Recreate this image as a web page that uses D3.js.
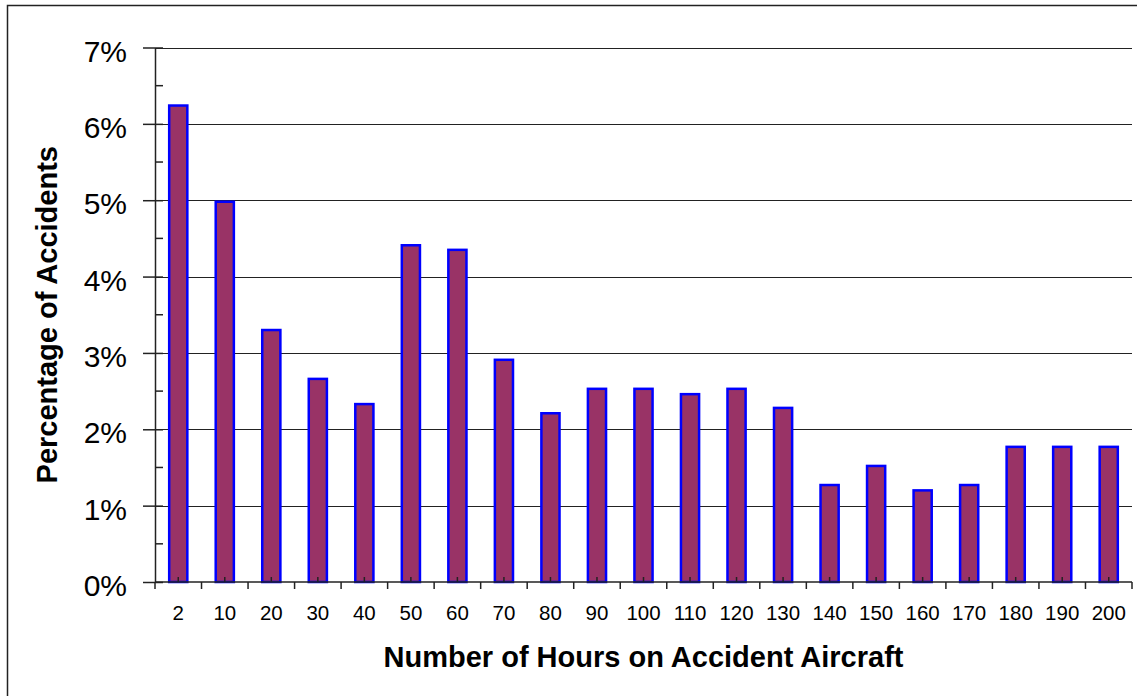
<!DOCTYPE html>
<html>
<head>
<meta charset="utf-8">
<script src="https://cdn.jsdelivr.net/npm/d3@7"></script>
<style>
html,body{margin:0;padding:0;background:#fff;}
svg{display:block;}
text{font-family:"Liberation Sans",Arial,sans-serif;fill:#000;}
</style>
</head>
<body>
<svg id="chart" width="1137" height="696"></svg>
<script>
const categories = ["2","10","20","30","40","50","60","70","80","90","100","110","120","130","140","150","160","170","180","190","200"];
const values = [6.24,4.98,3.30,2.66,2.33,4.41,4.35,2.91,2.21,2.53,2.53,2.46,2.53,2.28,1.27,1.52,1.20,1.27,1.77,1.77,1.77];
const yTicks = [0,1,2,3,4,5,6,7];
const yMinorTicks = [0.5,1.5,2.5,3.5,4.5,5.5,6.5];
const xTitle = "Number of Hours on Accident Aircraft";
const yTitle = "Percentage of Accidents";

(function(){
const svg = d3.select("#chart");
const W = 1137, H = 696;
const pLeft = 155, pRight = 1132, pTop = 47.5, pBottom = 582;

// outer frame
svg.append("rect").attr("x",7.5).attr("y",5.5).attr("width",W).attr("height",H)
  .attr("fill","none").attr("stroke","#222").attr("stroke-width",1.5);

const x = d3.scaleBand().domain(categories).range([pLeft,pRight]).padding(0);
const y = d3.scaleLinear().domain([0,7]).range([pBottom,pTop]);

// gridlines
svg.append("g").selectAll("line").data(yTicks.filter(d=>d>0)).join("line")
  .attr("x1",pLeft).attr("x2",pRight)
  .attr("y1",d=>Math.round(y(d))+0.5).attr("y2",d=>Math.round(y(d))+0.5)
  .attr("stroke","#222").attr("stroke-width",1);

// bars
const bw = x.bandwidth()*0.39;
svg.append("g").selectAll("rect").data(values).join("rect")
  .attr("x",(d,i)=>x(categories[i])+x.bandwidth()/2-bw/2)
  .attr("y",d=>y(d))
  .attr("width",bw)
  .attr("height",d=>y(0)-y(d))
  .attr("fill","#993366")
  .attr("stroke","#0000FF")
  .attr("stroke-width",2.5);

// y axis
const yAxis = d3.axisLeft(y).tickValues(yTicks).tickFormat(d=>d+"%").tickSizeInner(12).tickSizeOuter(0).tickPadding(16);
const gy = svg.append("g").attr("transform",`translate(${pLeft},0)`).call(yAxis);
gy.select(".domain").attr("stroke","#222").attr("stroke-width",1.5);
gy.selectAll(".tick line").attr("stroke","#222").attr("stroke-width",1.5).attr("x2",-12).attr("x1",8);
gy.selectAll(".tick text").attr("font-size",30).attr("dy","0.45em").style("font-family","'Liberation Sans',Arial,sans-serif");
// y minor ticks
svg.append("g").selectAll("line").data(yMinorTicks).join("line")
  .attr("x1",pLeft).attr("x2",pLeft+8)
  .attr("y1",d=>y(d)).attr("y2",d=>y(d))
  .attr("stroke","#222").attr("stroke-width",1.5);

// x axis
const xAxis = d3.axisBottom(x).tickSize(0).tickPadding(0);
const gx = svg.append("g").attr("transform",`translate(0,${pBottom})`).call(xAxis);
gx.select(".domain").remove();
gx.selectAll(".tick text").attr("font-size",20.5).attr("y",0).attr("dy","38").style("font-family","'Liberation Sans',Arial,sans-serif");
svg.append("line").attr("x1",pLeft).attr("x2",pRight).attr("y1",pBottom).attr("y2",pBottom)
  .attr("stroke","#222").attr("stroke-width",1.5);
// boundary ticks (downward)
const bounds = categories.map(c=>x(c)).concat([x(categories[categories.length-1])+x.step()]);
svg.append("g").selectAll("line").data(bounds).join("line")
  .attr("x1",d=>d).attr("x2",d=>d).attr("y1",pBottom).attr("y2",pBottom+7)
  .attr("stroke","#222").attr("stroke-width",1.5);
// center ticks (upward)
svg.append("g").selectAll("line").data(categories).join("line")
  .attr("x1",d=>x(d)+x.bandwidth()/2).attr("x2",d=>x(d)+x.bandwidth()/2)
  .attr("y1",pBottom).attr("y2",pBottom-5)
  .attr("stroke","#222").attr("stroke-width",1.5);

// titles
svg.append("text").attr("x",(pLeft+pRight)/2).attr("y",667)
  .attr("text-anchor","middle").attr("font-size",29).attr("font-weight","bold").text(xTitle);
svg.append("text").attr("transform",`translate(57,${(pTop+pBottom)/2}) rotate(-90)`)
  .attr("text-anchor","middle").attr("font-size",29).attr("font-weight","bold").text(yTitle);
})();
</script>
</body>
</html>
